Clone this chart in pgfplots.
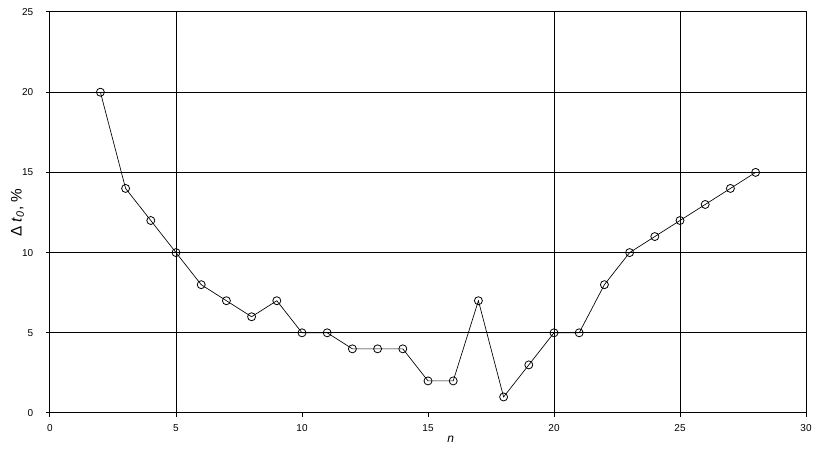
\documentclass[border=0pt]{standalone}
\usepackage{fontspec}
\setmainfont{Liberation Sans}
\usepackage{pgfplots}
\pgfplotsset{compat=1.18}
\begin{document}
\begin{tikzpicture}
\begin{axis}[
  scale only axis,
  width=567pt, height=300.75pt,
  xmin=0, xmax=30, ymin=0, ymax=25,
  xtick={0,5,...,30}, ytick={0,5,...,25},
  ymajorgrids,
  extra x ticks={5,20,25},
  extra x tick labels={},
  extra x tick style={grid=major, major tick length=0pt},
  tick pos=left,
  tick align=outside,
  major tick length=3pt,
  axis line style={black, line width=0.75pt},
  grid style={black, line width=0.75pt},
  tick style={black, line width=0.75pt},
  tick label style={font=\fontsize{7.5}{8}\selectfont},
  yticklabel style={xshift=-6pt},
  xticklabel style={yshift=-2pt},
  /pgf/number format/assume math mode=true,
  xlabel={\textit{n}},
  xlabel style={font=\fontsize{9}{10}\selectfont, at={(axis description cs:0.53,-0.065)}, anchor=center},
  ylabel={Δ \textit{t}\textsubscript{\textit{0}}, \%},
  ylabel style={font=\fontsize{11.5}{13}\selectfont, at={(axis description cs:-0.043,0.5)}, anchor=center},
]
\addplot[black, line width=0.5pt, mark=o, mark size=3pt, mark options={line width=0.6pt}] coordinates {
  (2,20) (3,14) (4,12) (5,10) (6,8) (7,7) (8,6) (9,7) (10,5) (11,5)
  (12,4) (13,4) (14,4) (15,2) (16,2) (17,7) (18,1) (19,3) (20,5) (21,5)
  (22,8) (23,10) (24,11) (25,12) (26,13) (27,14) (28,15)
};
\end{axis}
\pgfresetboundingbox
\useasboundingbox ([shift={(-37.5pt,-31.5pt)}]current axis.south west) rectangle ([shift={(7.5pt,9pt)}]current axis.north east);
\end{tikzpicture}
\end{document}
